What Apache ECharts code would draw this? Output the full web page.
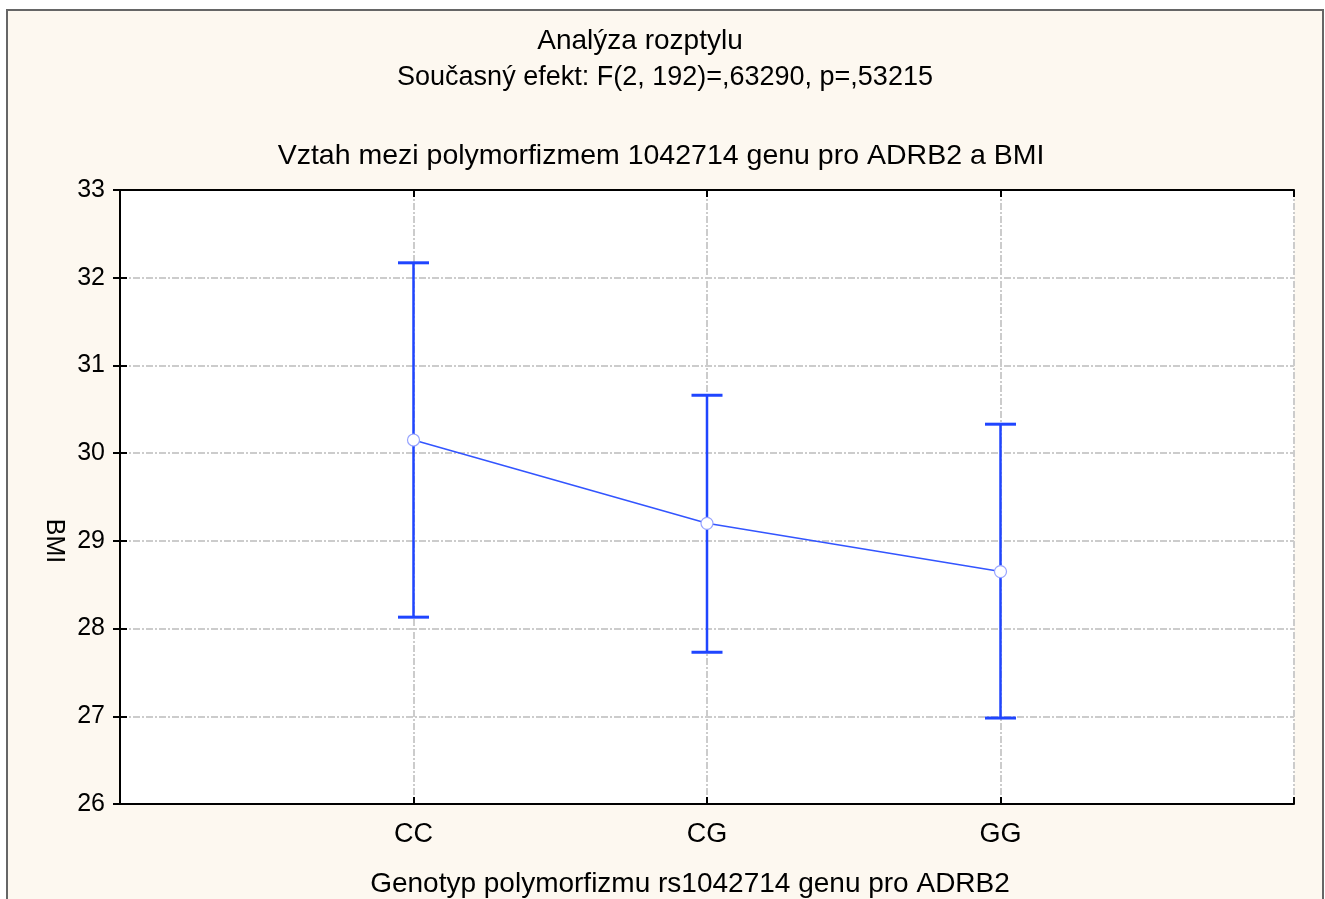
<!DOCTYPE html>
<html>
<head>
<meta charset="utf-8">
<title>Analýza rozptylu</title>
<script src="https://cdn.jsdelivr.net/npm/echarts@6/dist/echarts.min.js"></script>
<style>
  html, body { margin: 0; padding: 0; background: #fff; overflow: hidden; }
  #chart { width: 1325px; height: 899px; }
</style>
</head>
<body>
<div id="chart"></div>
<script>
// data
var genotypes = ['CC', 'CG', 'GG'];
var meanBMI = [30.15, 29.20, 28.65];
var lowerCI = [28.13, 27.73, 26.98];
var upperCI = [32.17, 30.66, 30.33];

var yTicks = [26, 27, 28, 29, 30, 31, 32, 33];

var FONT = "'Liberation Sans', Arial, Helvetica, sans-serif";
var BLUE = '#1f45ff';

var chart = echarts.init(document.getElementById('chart'), null, { renderer: 'canvas' });

// genotypes sit on positions 1..n of a 0..n+1 axis
var meanPts = genotypes.map(function (g, i) { return [i + 1, meanBMI[i]]; });
var barPts = genotypes.map(function (g, i) { return [i + 1, lowerCI[i], upperCI[i]]; });

var gridSplit = { show: true, lineStyle: { color: '#cccccc', width: 2, type: [7, 2, 2, 2] } };
var blackLine = { show: true, lineStyle: { color: '#000', width: 2 } };
// negative length turns the ticks towards the plot
var inTick = { show: true, inside: false, length: -7, lineStyle: { color: '#000', width: 2 } };

var option = {
  backgroundColor: '#fff',
  textStyle: { fontFamily: FONT },
  animation: false,
  graphic: [{
    type: 'rect',
    z: -100,
    shape: { x: 7, y: 10, width: 1316, height: 1000 },
    style: { fill: '#fdf8f0', stroke: '#666', lineWidth: 2 }
  }],
  title: [
    { text: 'Analýza rozptylu', left: 640, top: 41, padding: 0,
      textAlign: 'center', textVerticalAlign: 'middle',
      textStyle: { fontFamily: FONT, fontSize: 28, fontWeight: 'normal', color: '#000' } },
    { text: 'Současný efekt: F(2, 192)=,63290, p=,53215', left: 665, top: 78, padding: 0,
      textAlign: 'center', textVerticalAlign: 'middle',
      textStyle: { fontFamily: FONT, fontSize: 27, fontWeight: 'normal', color: '#000' } },
    { text: 'Vztah mezi polymorfizmem 1042714 genu pro ADRB2 a BMI', left: 661, top: 156, padding: 0,
      textAlign: 'center', textVerticalAlign: 'middle',
      textStyle: { fontFamily: FONT, fontSize: 28.5, fontWeight: 'normal', color: '#000' } }
  ],
  grid: {
    left: 120, top: 190, right: 31, bottom: 95,
    outerBoundsMode: 'none',
    containLabel: false,
    show: true, backgroundColor: '#fff', borderWidth: 0
  },
  xAxis: [{
    type: 'value', position: 'bottom',
    min: 0, max: genotypes.length + 1, interval: 1,
    name: 'Genotyp polymorfizmu rs1042714 genu pro ADRB2',
    nameLocation: 'middle', nameGap: 66,
    nameTextStyle: { fontFamily: FONT, fontSize: 28, color: '#000', padding: [0, 34, 0, 0] },
    axisLine: blackLine,
    axisTick: inTick,
    axisLabel: {
      fontFamily: FONT, fontSize: 27, color: '#000', margin: 17,
      formatter: function (v) { return genotypes[v - 1] || ''; }
    },
    splitLine: gridSplit
  }, {
    type: 'value', position: 'top',
    min: 0, max: genotypes.length + 1, interval: 1,
    axisLine: blackLine,
    axisTick: inTick,
    axisLabel: { show: false },
    splitLine: { show: false }
  }],
  yAxis: [{
    type: 'value', position: 'left',
    min: yTicks[0], max: yTicks[yTicks.length - 1], interval: 1,
    name: 'BMI', nameLocation: 'middle', nameRotate: -90, nameGap: 47,
    nameTextStyle: { fontFamily: FONT, fontSize: 25, color: '#000', padding: [0, 0, 0, 88] },
    axisLine: blackLine,
    axisTick: inTick,
    axisLabel: { fontFamily: FONT, fontSize: 25, color: '#000', margin: 15 },
    splitLine: gridSplit
  }, {
    type: 'value', position: 'right',
    min: yTicks[0], max: yTicks[yTicks.length - 1], interval: 1,
    axisLine: blackLine,
    axisTick: inTick,
    axisLabel: { show: false },
    splitLine: { show: false }
  }],
  series: [{
    type: 'custom',
    name: 'CI',
    z: 2,
    data: barPts,
    encode: { x: 0, y: [1, 2] },
    renderItem: function (params, api) {
      var x = api.value(0);
      var lo = api.coord([x, api.value(1)]);
      var hi = api.coord([x, api.value(2)]);
      var hw = 15.5;
      return {
        type: 'group',
        children: [
          { type: 'line', shape: { x1: hi[0], y1: hi[1], x2: lo[0], y2: lo[1] },
            style: { stroke: BLUE, lineWidth: 2.5 } },
          { type: 'line', shape: { x1: hi[0] - hw, y1: hi[1], x2: hi[0] + hw, y2: hi[1] },
            style: { stroke: BLUE, lineWidth: 3 } },
          { type: 'line', shape: { x1: lo[0] - hw, y1: lo[1], x2: lo[0] + hw, y2: lo[1] },
            style: { stroke: BLUE, lineWidth: 3 } }
        ]
      };
    }
  }, {
    type: 'line',
    name: 'BMI',
    z: 5,
    data: meanPts,
    lineStyle: { color: '#3355ff', width: 1.6 },
    symbol: 'circle',
    symbolSize: 12,
    itemStyle: { color: '#fff', borderColor: '#98a4ff', borderWidth: 1.2 }
  }]
};

chart.setOption(option);
</script>
</body>
</html>
